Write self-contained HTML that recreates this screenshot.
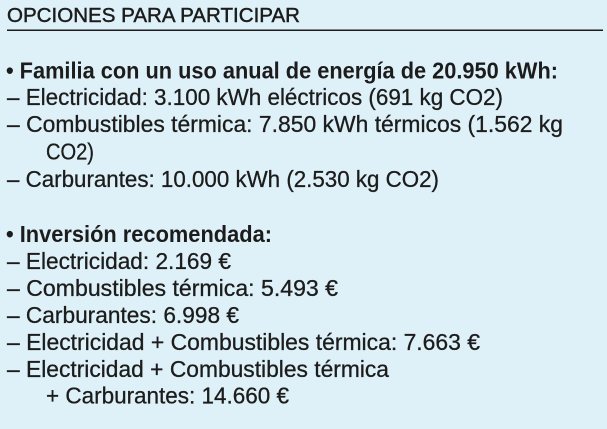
<!DOCTYPE html>
<html>
<head>
<meta charset="utf-8">
<style>
  html, body { margin: 0; padding: 0; }
  body { width: 607px; height: 429px; background: #dff1f8; overflow: hidden; }
  svg { display: block; }
  text { font-family: "Liberation Sans", "DejaVu Sans", sans-serif; fill: #1c1c1c; }
  .r { font-size: 23px; stroke: #1c1c1c; stroke-width: 0.3px; }
  .b { font-size: 23px; font-weight: bold; }
  .t { font-size: 20px; stroke: #1c1c1c; stroke-width: 0.45px; }
</style>
</head>
<body>
<svg width="607" height="429" viewBox="0 0 607 429" xmlns="http://www.w3.org/2000/svg">
  <rect x="0" y="0" width="607" height="429" fill="#dff1f8"/>
  <text class="t" x="7" y="22" textLength="293" lengthAdjust="spacingAndGlyphs">OPCIONES PARA PARTICIPAR</text>
  <rect x="7" y="29.5" width="596" height="1.5" fill="#1c1c1c"/>

  <text class="b" x="6" y="78.5" textLength="552" lengthAdjust="spacingAndGlyphs">• Familia con un uso anual de energía de 20.950 kWh:</text>
  <text class="r" x="7" y="105" textLength="496" lengthAdjust="spacingAndGlyphs">– Electricidad: 3.100 kWh eléctricos (691 kg CO2)</text>
  <text class="r" x="7" y="132" textLength="556" lengthAdjust="spacingAndGlyphs">– Combustibles térmica: 7.850 kWh térmicos (1.562 kg</text>
  <text class="r" x="46" y="159.5" textLength="48" lengthAdjust="spacingAndGlyphs">CO2)</text>
  <text class="r" x="7" y="187" textLength="432" lengthAdjust="spacingAndGlyphs">– Carburantes: 10.000 kWh (2.530 kg CO2)</text>

  <text class="b" x="6" y="242" textLength="266" lengthAdjust="spacingAndGlyphs">• Inversión recomendada:</text>
  <text class="r" x="7" y="269" textLength="224" lengthAdjust="spacingAndGlyphs">– Electricidad: 2.169 €</text>
  <text class="r" x="7" y="296" textLength="331" lengthAdjust="spacingAndGlyphs">– Combustibles térmica: 5.493 €</text>
  <text class="r" x="7" y="323" textLength="232" lengthAdjust="spacingAndGlyphs">– Carburantes: 6.998 €</text>
  <text class="r" x="7" y="350" textLength="473" lengthAdjust="spacingAndGlyphs">– Electricidad + Combustibles térmica: 7.663 €</text>
  <text class="r" x="7" y="377" textLength="382" lengthAdjust="spacingAndGlyphs">– Electricidad + Combustibles térmica</text>
  <text class="r" x="46" y="403.5" textLength="243" lengthAdjust="spacingAndGlyphs">+ Carburantes: 14.660 €</text>
</svg>
</body>
</html>
